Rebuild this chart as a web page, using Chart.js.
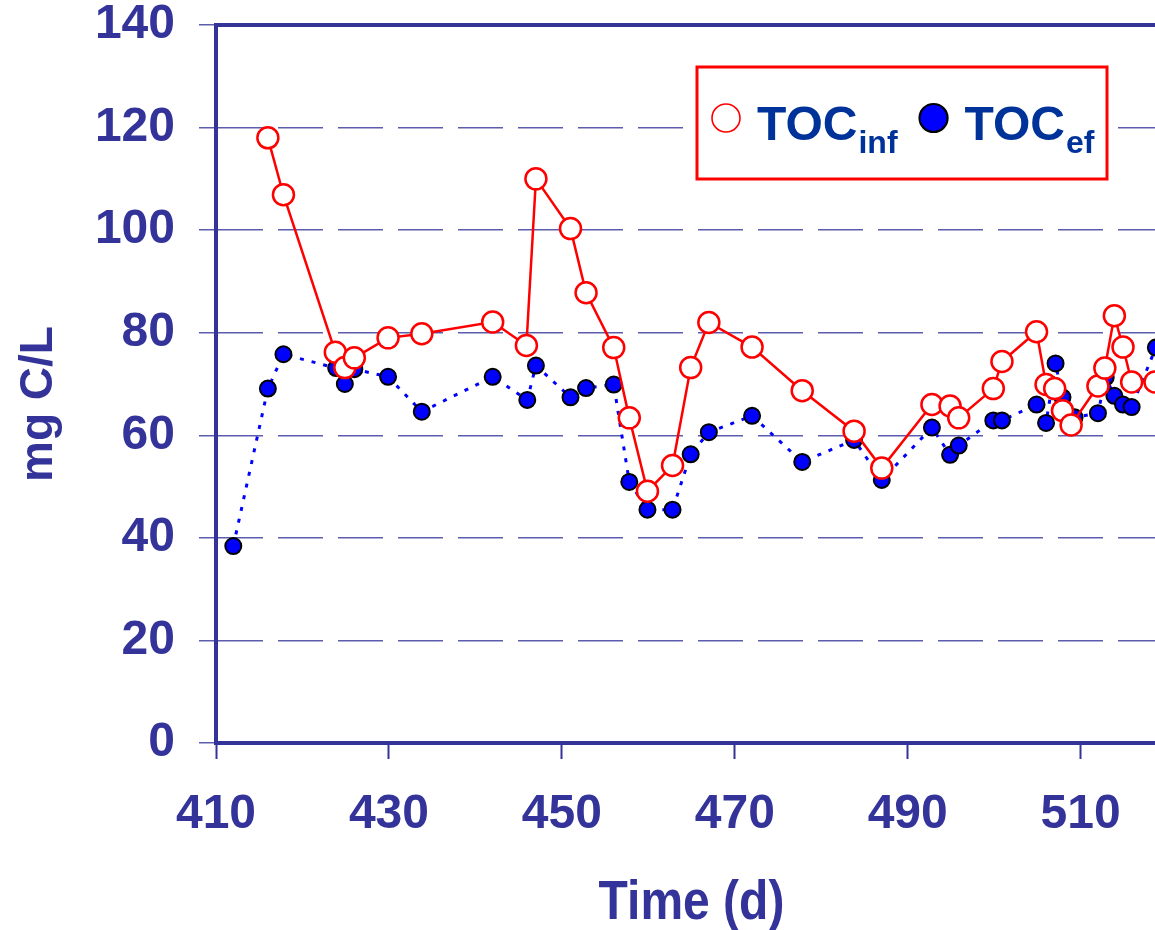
<!DOCTYPE html>
<html>
<head>
<meta charset="utf-8">
<script src="https://cdn.jsdelivr.net/npm/chart.js@4.4.1/dist/chart.umd.min.js"></script>
<style>
  html, body { margin: 0; padding: 0; background: #ffffff; overflow: hidden; }
  canvas { display: block; }
</style>
</head>
<body>
<canvas id="toc" width="1155" height="930"></canvas>
<script>
// TOC of the influent and effluent over time (days of operation)
const infDays   = [416.0, 417.8, 423.8, 424.9, 426.0, 429.9, 433.8, 442.0, 445.9, 447.0, 451.0, 452.8,
                   456.0, 457.8, 459.9, 462.8, 464.9, 467.0, 472.0, 477.8, 483.8, 487.0, 492.8, 494.9,
                   495.9, 499.9, 500.9, 504.9, 506.0, 507.0, 507.9, 508.9, 512.0, 512.8, 513.9, 514.9,
                   515.9, 518.6];
const infValues = [118.0, 106.9, 76.2, 73.2, 75.1, 79.0, 79.8, 82.1, 77.5, 110.0, 100.3, 87.8,
                   77.1, 63.4, 49.1, 54.1, 73.2, 82.0, 77.2, 68.7, 60.8, 53.6, 66.0, 65.7,
                   63.4, 69.1, 74.4, 80.2, 69.9, 69.1, 64.8, 62.0, 69.6, 73.1, 83.3, 77.2,
                   70.4, 70.4];

const efDays    = [412.0, 416.0, 417.8, 423.9, 424.9, 426.0, 429.9, 433.8, 442.0, 446.0, 447.0, 451.0,
                   452.8, 456.0, 457.8, 459.9, 462.8, 464.9, 467.0, 472.0, 477.8, 483.8, 487.0, 492.8,
                   494.9, 495.9, 499.9, 500.9, 504.9, 506.0, 507.1, 507.9, 509.3, 512.0, 512.9, 513.9,
                   514.9, 515.9, 518.7];
const efValues  = [38.4, 69.1, 75.8, 73.1, 70.0, 72.9, 71.4, 64.6, 71.4, 66.9, 73.6, 67.4,
                   69.2, 69.9, 50.9, 45.5, 45.5, 56.3, 60.6, 63.8, 54.8, 59.1, 51.3, 61.5,
                   56.2, 58.0, 62.9, 62.9, 66.0, 62.4, 74.0, 67.4, 63.5, 64.3, 71.3, 67.7,
                   66.0, 65.5, 77.1];

const xTickValues = [410, 430, 450, 470, 490, 510];
const yTickValues = [0, 20, 40, 60, 80, 100, 120, 140];
const seriesNames = ['TOC', 'TOC'];
const seriesSubscripts = ['inf', 'ef'];
const xTitle = 'Time (d)';
const yTitle = 'mg C/L';

const AXIS = '#333399';
const GRID = '#5c5cae';
const LEGEND_TEXT = '#003399';
const FONT = "'Liberation Sans', Arial, Helvetica, sans-serif";

const toPoints = (xs, ys) => xs.map((x, i) => ({ x: x, y: ys[i] }));

// Solid frame line along the top of the plot area
const topFrame = {
  id: 'topFrame',
  beforeDatasetsDraw(chart) {
    const { ctx, chartArea } = chart;
    ctx.save();
    ctx.strokeStyle = AXIS;
    ctx.lineWidth = 4;
    ctx.beginPath();
    ctx.moveTo(chartArea.left - 2, chartArea.top);
    ctx.lineTo(chartArea.right, chartArea.top);
    ctx.stroke();
    ctx.restore();
  }
};

// Axis titles
const axisTitles = {
  id: 'axisTitles',
  afterDraw(chart) {
    const { ctx, chartArea } = chart;
    ctx.save();
    ctx.fillStyle = AXIS;
    ctx.font = 'bold 48px ' + FONT;
    ctx.textAlign = 'center';
    ctx.textBaseline = 'alphabetic';
    ctx.save();
    ctx.translate((chartArea.left + chartArea.right) / 2 + 6, 919);
    ctx.scale(1, 1.15);
    ctx.fillText(xTitle, 0, 0);
    ctx.restore();

    ctx.save();
    ctx.font = 'bold 46px ' + FONT;
    ctx.translate(52, (chartArea.top + chartArea.bottom) / 2 + 20);
    ctx.rotate(-Math.PI / 2);
    ctx.fillText(yTitle, 0, 0);
    ctx.restore();
    ctx.restore();
  }
};

// Boxed legend with subscripted series names
const boxedLegend = {
  id: 'boxedLegend',
  afterDraw(chart) {
    const { ctx } = chart;
    const box = { x: 697, y: 67, w: 410, h: 112 };
    ctx.save();
    ctx.fillStyle = '#ffffff';
    ctx.fillRect(box.x, box.y, box.w, box.h);
    ctx.strokeStyle = '#ff0000';
    ctx.lineWidth = 3;
    ctx.strokeRect(box.x, box.y, box.w, box.h);

    const cy = 118;
    const baseY = 140;
    let x = box.x + 15;
    chart.data.datasets.forEach((ds, i) => {
      ctx.beginPath();
      ctx.arc(x + 14, cy, 14, 0, Math.PI * 2);
      ctx.fillStyle = ds.pointBackgroundColor;
      ctx.fill();
      ctx.lineWidth = i === 0 ? 1.6 : 2.2;
      ctx.strokeStyle = ds.pointBorderColor;
      ctx.stroke();
      x += 45;

      ctx.fillStyle = LEGEND_TEXT;
      ctx.textAlign = 'left';
      ctx.textBaseline = 'alphabetic';
      ctx.font = 'bold 48px ' + FONT;
      ctx.fillText(seriesNames[i], x, baseY);
      x += ctx.measureText(seriesNames[i]).width + 1;
      ctx.font = 'bold 32px ' + FONT;
      ctx.fillText(seriesSubscripts[i], x, baseY + 13);
      x += ctx.measureText(seriesSubscripts[i]).width + 22;
    });
    ctx.restore();
  }
};

new Chart(document.getElementById('toc'), {
  type: 'line',
  data: {
    datasets: [
      {
        label: seriesNames[0] + seriesSubscripts[0],
        data: toPoints(infDays, infValues),
        borderColor: '#ff0000',
        borderWidth: 2.5,
        pointRadius: 10.5,
        pointBorderWidth: 2.5,
        pointBackgroundColor: '#ffffff',
        pointBorderColor: '#ff0000',
        tension: 0,
        clip: false,
        order: 1
      },
      {
        label: seriesNames[1] + seriesSubscripts[1],
        data: toPoints(efDays, efValues),
        borderColor: '#0000ff',
        borderWidth: 3,
        borderDash: [4, 8],
        pointRadius: 8,
        pointBorderWidth: 2,
        pointBackgroundColor: '#0000ff',
        pointBorderColor: '#000000',
        tension: 0,
        clip: false,
        order: 2
      }
    ]
  },
  options: {
    responsive: false,
    animation: false,
    devicePixelRatio: 1,
    layout: { autoPadding: false, padding: { top: 25, right: 0, bottom: 0, left: 0 } },
    plugins: {
      legend: { display: false },
      tooltip: { enabled: false }
    },
    scales: {
      x: {
        type: 'linear',
        min: 410,
        max: 518.6,
        afterBuildTicks: (scale) => { scale.ticks = xTickValues.map(v => ({ value: v })); },
        afterFit: (scale) => {
          scale.height = 187;
          scale.paddingLeft = 0;
          scale.paddingRight = 0;
        },
        ticks: {
          color: AXIS,
          font: { family: FONT, size: 48, weight: 'bold', lineHeight: 1 },
          padding: 32,
          maxRotation: 0,
          autoSkip: false
        },
        grid: {
          drawOnChartArea: false,
          drawTicks: true,
          tickLength: 16,
          tickColor: AXIS,
          tickWidth: 2
        },
        border: { color: AXIS, width: 4 }
      },
      y: {
        type: 'linear',
        min: 0,
        max: 140,
        afterBuildTicks: (scale) => { scale.ticks = yTickValues.map(v => ({ value: v })); },
        afterFit: (scale) => {
          scale.width = 216;
          scale.paddingTop = 0;
          scale.paddingBottom = 0;
        },
        ticks: {
          color: AXIS,
          font: { family: FONT, size: 48, weight: 'bold', lineHeight: 1 },
          padding: 24
        },
        grid: {
          color: (ctx) => (ctx.tick && (ctx.tick.value === 0 || ctx.tick.value === 140)) ? 'rgba(0,0,0,0)' : GRID,
          lineWidth: 1.5,
          tickLength: 17,
          tickColor: GRID,
          tickWidth: 1.5
        },
        border: { color: AXIS, width: 4, dash: [45, 15] }
      }
    }
  },
  plugins: [topFrame, axisTitles, boxedLegend]
});
</script>
</body>
</html>
